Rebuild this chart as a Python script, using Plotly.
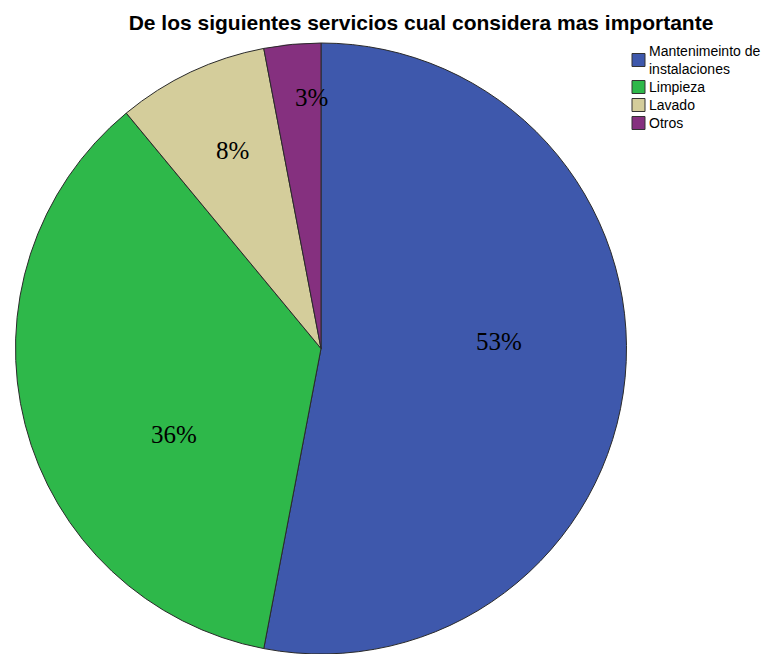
import math
import plotly.graph_objects as go

# Survey answers: which service is considered most important
categories = ["Mantenimeinto de<br>instalaciones", "Limpieza", "Lavado", "Otros"]
percentages = [53, 36, 8, 3]
colors = ["#3e58ac", "#2eb84a", "#d4cd9b", "#85307f"]

W, H = 761, 654
# pie placement in pixels
cx, top, radius = 321, 43, 305.5
cy = top + radius


def px_x(x):
    return x / W


def px_y(y):
    return 1 - y / H


fig = go.Figure(
    go.Pie(
        labels=categories,
        values=percentages,
        sort=False,
        direction="clockwise",
        rotation=0,
        marker=dict(colors=colors, line=dict(color="#2a2a2a", width=1)),
        textinfo="none",
        hoverinfo="label+percent",
        showlegend=False,
        domain=dict(x=[px_x(cx - radius), px_x(cx + radius)], y=[0, px_y(top)]),
    )
)

# percentage labels placed along each slice (angle tweak in degrees, radial fraction)
label_tweaks = [(-7.7, 0.583), (-15.9, 0.557), (1.0, 0.71), (3.3, 0.822)]
total = sum(percentages)
cum = 0
for v, (dang, frac) in zip(percentages, label_tweaks):
    mid = (cum + v / 2) / total * 360 + dang
    cum += v
    t = math.radians(mid)
    lx = cx + radius * frac * math.sin(t)
    ly = cy - radius * frac * math.cos(t)
    fig.add_annotation(
        x=px_x(lx), y=px_y(ly), xref="paper", yref="paper",
        xanchor="center", yanchor="middle",
        text=f"{v}%", showarrow=False,
        font=dict(family="Liberation Serif", size=25, color="#000000"),
    )

# compact legend: colour swatch followed by the category name
legend_font = 14
line_h, entry_gap, box = 18, 0, 13
text_x, box_right = 647, 645
cur = 51
for name, col in zip(categories, colors):
    n_lines = len(name.split("<br>"))
    first, last = cur, cur + (n_lines - 1) * line_h
    bc = (first + last) / 2
    fig.add_annotation(
        x=px_x(text_x), y=px_y(bc), xref="paper", yref="paper",
        xanchor="left", yanchor="middle", align="left", showarrow=False,
        text=name, font=dict(family="Liberation Sans", size=legend_font, color="#000000"),
    )
    fig.add_shape(
        type="rect", xref="paper", yref="paper",
        x0=px_x(box_right - box), x1=px_x(box_right),
        y0=px_y(bc - box / 2), y1=px_y(bc + box / 2),
        fillcolor=col, line=dict(color="#333333", width=1),
    )
    cur = last + line_h + entry_gap

fig.update_layout(
    width=W, height=H,
    margin=dict(l=0, r=0, t=0, b=0),
    paper_bgcolor="white",
    showlegend=False,
    title=dict(
        text="<b>De los siguientes servicios cual considera mas importante</b>",
        x=px_x(421), xanchor="center", y=px_y(23), yanchor="middle",
        font=dict(family="Liberation Sans", size=21, color="#000000"),
    ),
)

fig.write_html("out.html")
